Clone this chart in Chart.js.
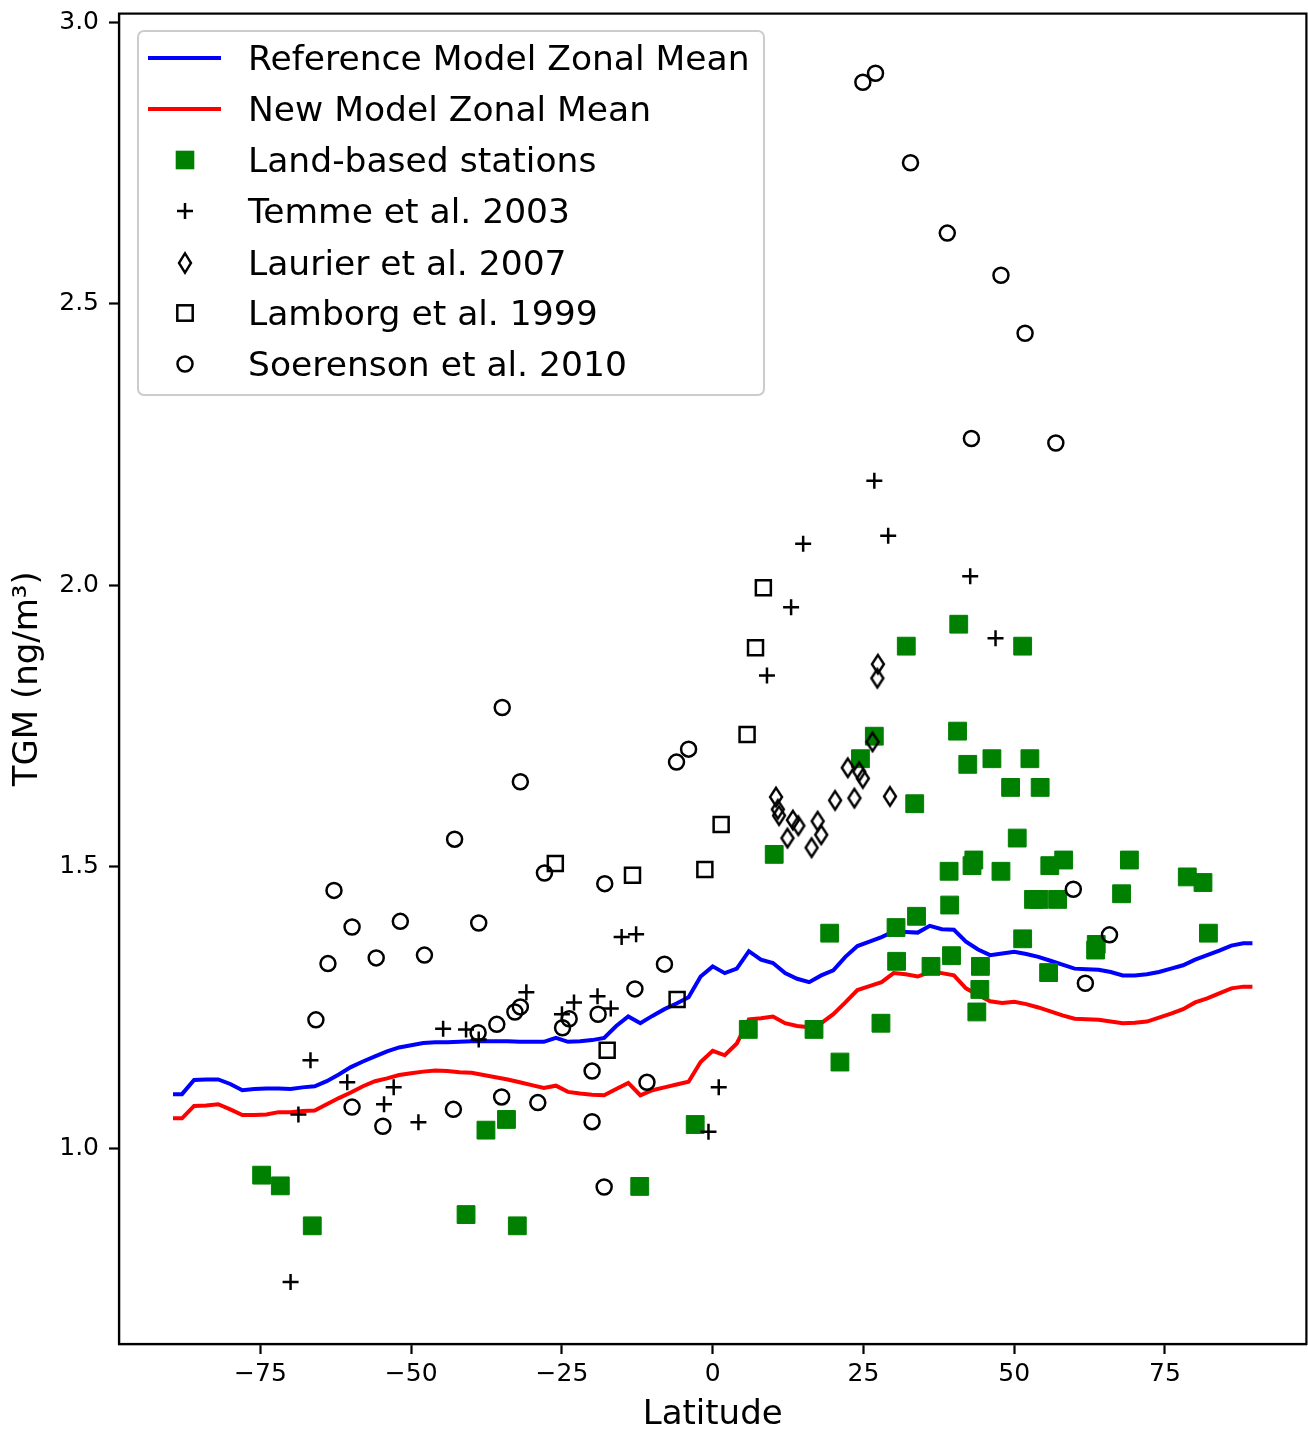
<!DOCTYPE html>
<html>
<head>
<meta charset="utf-8">
<title>TGM vs latitude</title>
<script src="https://cdn.jsdelivr.net/npm/chart.js@4.4.1/dist/chart.umd.min.js"></script>
<style>
    html, body { margin: 0; padding: 0; background: #fff; overflow: hidden; }
    #wrap { position: relative; width: 1308px; height: 1433px; overflow: hidden; }
    #chart { position: absolute; left: 0; top: 0; }
    #legend {
        position: absolute; left: 137px; top: 30px; width: 628px; height: 366px;
        box-sizing: border-box; border: 2px solid #cccccc; border-radius: 7px;
        background: rgba(255, 255, 255, 0.8);
        font-family: "DejaVu Sans", sans-serif; font-size: 34.5px; color: #000;
    }
    #legend .row { position: absolute; left: 0; height: 50px; width: 620px; }
    #legend .row svg { position: absolute; left: 0; top: 0; }
    #legend .row span { position: absolute; left: 109px; top: 0; line-height: 50px; white-space: nowrap; }
</style>
</head>
<body>
<div id="wrap">
    <canvas id="chart" width="1320" height="1433"></canvas>
    <div id="legend"></div>
</div>
<script>
// Model zonal means on the 2 x 2.5 grid
const modelLat = [-89.5, -88, -86, -84, -82, -80, -78, -76, -74, -72, -70, -68, -66, -64, -62, -60,
    -58, -56, -54, -52, -50, -48, -46, -44, -42, -40, -38, -36, -34, -32, -30, -28, -26, -24, -22,
    -20, -18, -16, -14, -12, -10, -8, -6, -4, -2, 0, 2, 4, 6, 8, 10, 12, 14, 16, 18, 20, 22, 24,
    26, 28, 30, 32, 34, 36, 38, 40, 42, 44, 46, 48, 50, 52, 54, 56, 58, 60, 62, 64, 66, 68, 70,
    72, 74, 76, 78, 80, 82, 84, 86, 88, 89.5];
const refMean = [1.096, 1.096, 1.121, 1.122, 1.122, 1.114, 1.103, 1.105, 1.106, 1.106, 1.105, 1.108,
    1.110, 1.119, 1.131, 1.144, 1.154, 1.163, 1.172, 1.179, 1.183, 1.187, 1.188, 1.188, 1.189,
    1.190, 1.190, 1.190, 1.190, 1.189, 1.189, 1.189, 1.196, 1.189, 1.190, 1.192, 1.196, 1.217,
    1.234, 1.222, 1.235, 1.247, 1.257, 1.268, 1.305, 1.323, 1.311, 1.319, 1.350, 1.335, 1.329,
    1.311, 1.301, 1.295, 1.307, 1.316, 1.340, 1.359, 1.367, 1.375, 1.385, 1.384, 1.383, 1.395,
    1.389, 1.388, 1.367, 1.353, 1.343, 1.346, 1.349, 1.345, 1.340, 1.333, 1.326, 1.319, 1.318,
    1.317, 1.313, 1.307, 1.307, 1.309, 1.313, 1.319, 1.325, 1.335, 1.343, 1.351, 1.360, 1.364, 1.364];
const newMean = [1.053, 1.053, 1.075, 1.076, 1.078, 1.069, 1.059, 1.059, 1.060, 1.064, 1.064, 1.066,
    1.067, 1.078, 1.089, 1.099, 1.110, 1.119, 1.124, 1.130, 1.133, 1.136, 1.138, 1.137, 1.135,
    1.134, 1.130, 1.126, 1.122, 1.117, 1.112, 1.107, 1.111, 1.100, 1.097, 1.095, 1.094, 1.105,
    1.116, 1.094, 1.103, 1.108, 1.113, 1.118, 1.153, 1.173, 1.165, 1.186, 1.229, 1.231, 1.234,
    1.222, 1.217, 1.215, 1.222, 1.238, 1.259, 1.281, 1.288, 1.295, 1.311, 1.309, 1.305, 1.313,
    1.311, 1.307, 1.284, 1.272, 1.261, 1.258, 1.260, 1.256, 1.250, 1.243, 1.236, 1.230, 1.229,
    1.228, 1.225, 1.222, 1.223, 1.225, 1.232, 1.239, 1.247, 1.259, 1.266, 1.275, 1.284, 1.287, 1.287];

// Observations
const landLat = [-74.8, -71.7, -66.4, -40.9, -37.6, -34.2, -32.4, -12.1, -2.9, 5.9, 10.2, 16.8, 19.4,
    21.1, 24.5, 26.8, 27.9, 30.4, 30.5, 32.1, 33.5, 33.8, 36.2, 39.2, 39.3, 39.6, 40.6, 40.8, 42.3,
    43.0, 43.3, 43.8, 44.3, 44.4, 46.3, 47.8, 49.4, 50.5, 51.4, 51.4, 52.6, 53.2, 54.1, 54.3, 55.7,
    55.9, 57.2, 58.2, 63.5, 63.6, 67.8, 69.1, 78.7, 81.3, 82.2];
const landTGM = [0.952, 0.933, 0.862, 0.882, 1.032, 1.051, 0.862, 0.932, 1.042, 1.211, 1.522, 1.211,
    1.382, 1.153, 1.692, 1.732, 1.222, 1.392, 1.332, 1.892, 1.612, 1.412, 1.323, 1.492, 1.432, 1.342,
    1.741, 1.931, 1.682, 1.502, 1.512, 1.242, 1.282, 1.323, 1.692, 1.492, 1.641, 1.551, 1.892, 1.372,
    1.692, 1.442, 1.442, 1.641, 1.312, 1.502, 1.442, 1.512, 1.352, 1.362, 1.452, 1.512, 1.482, 1.472, 1.382];

const temmeLat = [26.8, 29.1, 15.0, 13.0, 9.0, 42.7, 46.9, -15.1, -12.7, -30.9, -23.0, -19.1, -16.9,
    -25.0, -44.7, -40.9, -38.8, 1.0, -0.7, -66.7, -60.6, -52.9, -54.5, -48.8, -68.7, -70.0];
const temmeTGM = [2.186, 2.088, 2.074, 1.961, 1.840, 2.016, 1.906, 1.375, 1.380, 1.277, 1.259, 1.270,
    1.248, 1.238, 1.212, 1.211, 1.193, 1.108, 1.029, 1.156, 1.117, 1.108, 1.078, 1.046, 1.060, 0.762];

const laurierLat = [27.4, 27.3, 26.5, 22.4, 24.3, 24.9, 29.4, 23.5, 20.3, 10.5, 10.8, 11.0, 13.3,
    14.2, 17.4, 18.0, 12.4, 16.4];
const laurierTGM = [1.860, 1.835, 1.722, 1.676, 1.669, 1.657, 1.625, 1.622, 1.618, 1.624, 1.602,
    1.591, 1.583, 1.573, 1.581, 1.557, 1.551, 1.534];

const lamborgLat = [8.4, 7.1, 5.7, 1.4, -1.3, -13.3, -26.1, -5.9, -17.5];
const lamborgTGM = [1.996, 1.889, 1.735, 1.575, 1.495, 1.485, 1.506, 1.264, 1.174];

const soerensonLat = [24.9, 27.0, 32.8, 38.9, 47.8, 51.8, 42.9, 56.9, -34.9, -4.0, -6.0, -31.9, -42.8,
    -27.9, -17.9, -62.8, -59.8, -51.8, -38.8, -63.8, -55.8, -47.8, -8.0, -12.9, -65.8, -35.8, -32.8,
    -31.9, -23.8, -24.9, -19.0, -38.9, -43.0, -35.0, -29.0, -20.0, -20.0, -10.9, -18.0, -59.8, -54.7,
    59.8, 65.8, 61.8];
const soerensonTGM = [2.894, 2.910, 2.751, 2.626, 2.551, 2.448, 2.261, 2.253, 1.783, 1.709, 1.686,
    1.651, 1.549, 1.489, 1.470, 1.458, 1.393, 1.403, 1.400, 1.328, 1.338, 1.343, 1.327, 1.283, 1.228,
    1.220, 1.242, 1.251, 1.230, 1.214, 1.238, 1.205, 1.069, 1.091, 1.081, 1.137, 1.047, 1.117, 0.931,
    1.073, 1.039, 1.460, 1.379, 1.293];

const xTicks = [-75, -50, -25, 0, 25, 50, 75];
const yTicks = [1.0, 1.5, 2.0, 2.5, 3.0];

const FONT = '"DejaVu Sans", sans-serif';

// pair two arrays into {x, y} points
function toPoints(xs, ys) {
    return xs.map((x, i) => ({ x: x, y: ys[i] }));
}

// matplotlib-style thin diamond drawn once and reused as point style
function thinDiamond(hw, hh, lw) {
    const c = document.createElement('canvas');
    c.width = Math.ceil(2 * hw + 4 * lw);
    c.height = Math.ceil(2 * hh + 4 * lw);
    const g = c.getContext('2d');
    const cx = c.width / 2, cy = c.height / 2;
    g.lineWidth = lw;
    g.strokeStyle = '#000';
    g.beginPath();
    g.moveTo(cx, cy - hh);
    g.lineTo(cx + hw, cy);
    g.lineTo(cx, cy + hh);
    g.lineTo(cx - hw, cy);
    g.closePath();
    g.stroke();
    return c;
}

// top / right spines
const frame = {
    id: 'frame',
    afterDraw(chart) {
        const { ctx, chartArea: a } = chart;
        ctx.save();
        ctx.strokeStyle = '#000';
        ctx.lineWidth = 2.2;
        ctx.strokeRect(a.left, a.top, a.right - a.left, a.bottom - a.top);
        ctx.restore();
    }
};

const axisCommon = {
    type: 'linear',
    grid: { drawOnChartArea: false, drawTicks: true, tickLength: 10, tickWidth: 2.2, tickColor: '#000' },
    border: { display: true, color: '#000', width: 2.2 }
};

const chart = new Chart(document.getElementById('chart'), {
    type: 'scatter',
    data: {
        datasets: [
            {
                type: 'line', label: 'Reference Model Zonal Mean',
                data: toPoints(modelLat, refMean),
                borderColor: '#0000ff', borderWidth: 4, pointRadius: 0, tension: 0, order: 7
            },
            {
                type: 'line', label: 'New Model Zonal Mean',
                data: toPoints(modelLat, newMean),
                borderColor: '#ff0000', borderWidth: 4, pointRadius: 0, tension: 0, order: 6
            },
            {
                label: 'Land-based stations', data: toPoints(landLat, landTGM),
                pointStyle: 'rect', pointRadius: 12.6, borderWidth: 1,
                backgroundColor: '#008000', borderColor: '#008000', order: 5
            },
            {
                label: 'Temme et al. 2003', data: toPoints(temmeLat, temmeTGM),
                pointStyle: 'cross', pointRadius: 8, borderWidth: 2.5,
                borderColor: '#000', order: 4
            },
            {
                label: 'Laurier et al. 2007', data: toPoints(laurierLat, laurierTGM),
                pointStyle: thinDiamond(6, 9.2, 2.4), order: 3
            },
            {
                label: 'Lamborg et al. 1999', data: toPoints(lamborgLat, lamborgTGM),
                pointStyle: 'rect', pointRadius: 10.6, borderWidth: 2.5,
                backgroundColor: 'rgba(0,0,0,0)', borderColor: '#000', order: 2
            },
            {
                label: 'Soerenson et al. 2010', data: toPoints(soerensonLat, soerensonTGM),
                pointStyle: 'circle', pointRadius: 7.5, borderWidth: 2.5,
                backgroundColor: 'rgba(0,0,0,0)', borderColor: '#000', order: 1
            }
        ]
    },
    options: {
        responsive: false,
        animation: false,
        events: [],
        layout: { padding: { top: 12, right: 9, left: 0, bottom: 0 } },
        plugins: { legend: { display: false }, tooltip: { enabled: false } },
        scales: {
            x: {
                ...axisCommon,
                min: -98.45, max: 98.45,
                afterBuildTicks: (s) => { s.ticks = xTicks.map(v => ({ value: v })); },
                afterFit: (s) => { s.height = 89; s.paddingLeft = 0; s.paddingRight = 0; },
                ticks: {
                    color: '#000', padding: 5, maxRotation: 0,
                    font: { family: FONT, size: 25 },
                    callback: (v) => String(v).replace('-', '\u2212')
                },
                title: {
                    display: true, text: 'Latitude', color: '#000',
                    font: { family: FONT, size: 34, lineHeight: 1.04 },
                    padding: { top: 0, bottom: 0 }
                }
            },
            y: {
                ...axisCommon,
                min: 0.652, max: 3.016,
                afterBuildTicks: (s) => { s.ticks = yTicks.map(v => ({ value: v })); },
                afterFit: (s) => { s.width = 119; s.paddingTop = 0; s.paddingBottom = 0; },
                ticks: {
                    color: '#000', padding: 10,
                    font: { family: FONT, size: 25 },
                    callback: (v) => Number(v).toFixed(1)
                },
                title: {
                    display: true, text: 'TGM (ng/m\u00B3)', color: '#000',
                    font: { family: FONT, size: 34, lineHeight: 1.2 },
                    padding: { top: 8, bottom: 0 }
                }
            }
        }
    },
    plugins: [frame]
});

// Legend drawn as HTML over the plot (matplotlib upper-left box)
const legendItems = [
    { text: 'Reference Model Zonal Mean', mark: '<line x1="9" y1="25" x2="82" y2="25" stroke="#0000ff" stroke-width="4"/>' },
    { text: 'New Model Zonal Mean', mark: '<line x1="9" y1="25" x2="82" y2="25" stroke="#ff0000" stroke-width="4"/>' },
    { text: 'Land-based stations', mark: '<rect x="36.7" y="15.7" width="18.6" height="18.6" fill="#008000"/>' },
    { text: 'Temme et al. 2003', mark: '<path d="M38 25 H54 M46 17 V33" stroke="#000" stroke-width="2.5" fill="none"/>' },
    { text: 'Laurier et al. 2007', mark: '<polygon points="46,15.3 52,25 46,34.7 40,25" stroke="#000" stroke-width="2.4" fill="none"/>' },
    { text: 'Lamborg et al. 1999', mark: '<rect x="38.3" y="17.3" width="15.4" height="15.4" stroke="#000" stroke-width="2.5" fill="none"/>' },
    { text: 'Soerenson et al. 2010', mark: '<circle cx="46" cy="25" r="7.5" stroke="#000" stroke-width="2.5" fill="none"/>' }
];
const legendCenters = [26, 77, 128, 179, 230.5, 281, 331.5];

const legend = document.getElementById('legend');
legendItems.forEach((item, i) => {
    const row = document.createElement('div');
    row.className = 'row';
    row.style.top = (legendCenters[i] - 25) + 'px';
    row.innerHTML = '<svg width="100" height="50">' + item.mark + '</svg><span>' + item.text + '</span>';
    legend.appendChild(row);
});
</script>
</body>
</html>
